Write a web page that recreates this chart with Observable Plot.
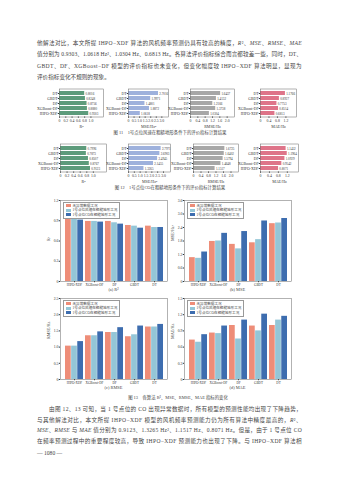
<!DOCTYPE html>
<html><head><meta charset="utf-8">
<script src="https://cdn.jsdelivr.net/npm/d3@7"></script>
<script src="https://cdn.jsdelivr.net/npm/@observablehq/plot@0.6"></script>
<style>
body{margin:0;background:#fff}
#page{position:relative;width:339px;height:480px;overflow:hidden;background:#fff;font-family:"Liberation Serif","Noto Sans CJK SC",serif;color:#444}
.ln{position:absolute;white-space:nowrap;line-height:8px}
.leg{position:absolute;font-size:3.6px;line-height:4.6px;border:0.4px solid #999;padding:0.6px 2px 0.6px 1.5px;background:#fff;white-space:nowrap;color:#444}
.sw{display:inline-block;width:5px;height:3px;margin-right:2px;vertical-align:middle}
</style></head>
<body><div id="page"></div>
<script>
// ---------- data ----------
const models11 = ["DT","GBDT","DF","XGBoost-DF","IHPO-XDF"];
const r2_11   = [0.8016, 0.8248, 0.8756, 0.8880, 0.9303];
const mse_11  = [2.7016, 1.9971, 1.4801, 1.8872, 1.0618];
const rmse_11 = [1.6437, 1.4132, 1.2166, 1.3738, 1.0304];
const mae_11  = [1.1766, 0.8927, 0.7753, 0.8514, 0.6813];

const r2_12   = [0.7996, 0.7873, 0.8507, 0.8767, 0.9123];
const mse_12  = [2.7971, 2.6903, 2.4945, 2.1455, 1.3265];
const rmse_12 = [1.6725, 1.6402, 1.5794, 1.4648, 1.1517];
const mae_12  = [1.1452, 1.1964, 1.0929, 0.9542, 0.8071];

const models13 = ["IHPO-XDF","XGBoost-DF","DF","GBDT","DT"];
const series13 = ["无异常数据工况","1号点位风速在粗糙地形工况","1号点位CO在粗糙地形工况"];
const r2_13   = [[0.93,0.89,0.89,0.83,0.82],[0.93,0.89,0.87,0.82,0.80],[0.91,0.88,0.85,0.79,0.80]];
const mse_13  = [[1.06,1.78,1.65,1.72,2.57],[1.03,1.80,1.45,1.86,2.60],[1.31,2.14,2.22,2.69,2.80]];
const rmse_13 = [[1.03,1.35,1.45,1.32,1.62],[1.03,1.35,1.45,1.38,1.62],[1.17,1.47,1.60,1.65,1.70]];
const mae_13  = [[0.73,0.86,1.00,0.99,1.00],[0.69,0.85,0.75,0.90,1.10],[0.83,0.99,1.10,1.21,1.17]];

const topLines = [
 '他解法对比，本文所提 IHPO−XDF 算法的风机频率预测仍具有较高的精度，<i>R</i>²、<i>MSE</i>、<i>RMSE</i>、<i>MAE</i>',
 '值分别为 0.9303、1.0618 Hz²、1.0304 Hz、0.6813 Hz。各算法评价指标综合而言都较差一些，同时，DT、',
 'GBDT、DF、XGBoost−DF 模型的评价指标也未变化，但变化幅度较 IHPO−XDF 算法明显，显现为',
 '评价指标变化不规则的现象。'
];
const bottomLines = [
 '由图 12、13 可知，当 1 号点位的 CO 出现异常数据时，所有模型的预测性能均出现了下降趋势，',
 '与其他解法对比，本文所提 IHPO−XDF 模型的风机频率预测能力仍为所有算法中精度最高的，<i>R</i>²、',
 '<i>MSE</i>、<i>RMSE</i> 与 <i>MAE</i> 值分别为 0.9123、1.3265 Hz²、1.1517 Hz、0.8071 Hz。但是，由于 1 号点位 CO',
 '在频率预测过程中的重要程度较高，导致 IHPO−XDF 预测能力也出现了下降。与 IHPO−XDF 算法相'
];
const cap11 = "图 11　1号点位风速在粗糙地形条件下的评价指标计算结果";
const cap12 = "图 12　1号点位CO在粗糙地形条件下的评价指标计算结果";
const cap13 = "图 13　各算法 R²、MSE、RMSE、MAE 指标的变化";

// ---------- helpers ----------
const page = document.getElementById("page");
const FONT = '"Liberation Serif","Noto Sans CJK SC",serif';
function line(html, x, y, w, fs, justify, center) {
  const d = document.createElement("div");
  d.className = "ln"; d.style.fontSize = fs + "px";
  d.innerHTML = html; page.appendChild(d);
  d.style.top = (y - 4) + "px";
  const nat = d.getBoundingClientRect().width;
  if (justify) {
    const n = d.textContent.length;
    d.style.letterSpacing = ((w - nat) / n) + "px";
    d.style.left = x + "px";
  } else if (center) {
    d.style.left = (x - nat / 2) + "px";
  } else d.style.left = x + "px";
}
function place(svg, left, top) {
  svg.style.position = "absolute"; svg.style.left = left + "px"; svg.style.top = top + "px";
  svg.style.maxWidth = "none"; svg.style.overflow = "visible";
  page.appendChild(svg);
}
const fmt1 = d => d === 0 ? "0" : d.toFixed(1);

function hbar(vals, color, xmax, ticks, title, frameL, frameR, frameT, frameB) {
  const ML = 30, MT = 0.5, MB = 16, MR = 0.5;
  const data = models11.map((n, i) => ({n, v: vals[i]}));
  const svg = Plot.plot({
    width: ML + (frameR - frameL) + MR, height: MT + (frameB - frameT) + MB,
    marginLeft: ML, marginRight: MR, marginTop: MT, marginBottom: MB,
    style: {fontSize: "3.8px", fontFamily: FONT, background: "transparent", color: "#333"},
    x: {domain: [0, xmax], ticks, tickFormat: fmt1, tickSize: 1.2, tickPadding: 0.8, label: null},
    y: {domain: models11, padding: 0.22, tickSize: 1.2, tickPadding: 0.8, label: null},
    marks: [
      Plot.barX(data, {x: "v", y: "n", fill: color}),
      Plot.text(data, {x: "v", y: "n", text: d => d.v.toFixed(4), textAnchor: "start", dx: 0.8, fontSize: 3.2}),
      Plot.frame({stroke: "#666", strokeWidth: 0.5}),
      Plot.text([title], {frameAnchor: "bottom", dy: 10.5, fontSize: 4})
    ]
  });
  place(svg, frameL - ML, frameT - MT);
}

const colors13 = ["#ee8d78", "#94c6d7", "#3d6daf"];
function grouped(vals, ymax, ticks, ylabel, cap, left, top) {
  const pw = 107, ph = 81, ML = 16, MR = 1, MT = 1, MB = 10;
  const pad = 0.12;
  const step = pw / (models13.length - pad + 2 * pad), bw = step * (1 - pad);
  const marks = series13.map((s, i) => Plot.barY(
    models13.map((m, j) => ({m, v: vals[i][j]})),
    {x: "m", y: "v", fill: colors13[i], insetLeft: i * bw / 3, insetRight: (2 - i) * bw / 3}));
  const svg = Plot.plot({
    width: ML + pw + MR, height: MT + ph + MB,
    marginLeft: ML, marginRight: MR, marginTop: MT, marginBottom: MB,
    style: {fontSize: "3.8px", fontFamily: FONT, background: "transparent", color: "#333"},
    x: {domain: models13, padding: pad, tickSize: 1.2, tickPadding: 0.8, label: null},
    y: {domain: [0, ymax], ticks, tickFormat: fmt1, tickSize: 1.2, tickPadding: 0.8, label: null},
    marks: [
      ...marks,
      Plot.axisX({tickSize: 1.2, tickPadding: 0.8, fontSize: 3.3, label: null}),
      Plot.frame({stroke: "#666", strokeWidth: 0.5}),
      Plot.text([ylabel], {frameAnchor: "left", dx: -12, rotate: -90, fontSize: 4.2})
    ]
  });
  place(svg, left - ML, top - MT);
  const lg = document.createElement("div"); lg.className = "leg";
  lg.style.left = (left + 3) + "px"; lg.style.top = (top + 2) + "px";
  lg.innerHTML = series13.map((s, i) => `<div><span class="sw" style="background:${colors13[i]}"></span>${s}</div>`).join("");
  page.appendChild(lg);
  line(cap, left + pw / 2, top + ph + 9, 0, 4.4, false, true);
}

// ---------- page text ----------
[43, 54, 65.5, 77].forEach((y, i) => line(topLines[i], 37, y, 265, 5.6, i < 3));
[409, 419.5, 430, 441].forEach((y, i) => line(bottomLines[i], i === 0 ? 49 : 37, y, i === 0 ? 253 : 265, 5.6, true));
line("— 1080 —", 37, 453, 0, 5.6, false);

// ---------- figure 11 ----------
hbar(r2_11, "#5d9b7b", 1.4, [0, .2, .4, .6, .8, 1.0], "R²", 59, 103, 88, 116);
hbar(mse_11, "#9eb1dc", 3.6, [0, .5, 1, 1.5, 2, 2.5, 3], "MSE/Hz²", 128, 168, 88, 116);
hbar(rmse_11, "#a7a7a7", 2.4, [0, .4, .8, 1.2, 1.6, 2.0], "RMSE/Hz", 190, 234, 88, 116);
hbar(mae_11, "#de7489", 1.7, [0, .4, .8, 1.2], "MAE/Hz", 260, 296, 88, 116);
line(cap11, 170, 132.5, 0, 4.4, false, true);

// ---------- figure 12 ----------
hbar(r2_12, "#5d9b7b", 1.4, [0, .2, .4, .6, .8, 1.0], "R²", 60, 106, 143, 171);
hbar(mse_12, "#9eb1dc", 3.6, [0, .5, 1, 1.5, 2, 2.5, 3], "MSE/Hz²", 128, 170, 143, 171);
hbar(rmse_12, "#a7a7a7", 2.4, [0, .4, .8, 1.2, 1.6, 2.0], "RMSE/Hz", 193, 238, 143, 171);
hbar(mae_12, "#de7489", 1.7, [0, .4, .8, 1.2], "MAE/Hz", 260, 298, 143, 171);
line(cap12, 170, 187.5, 0, 4.4, false, true);

// ---------- figure 13 ----------
grouped(r2_13, 1.2, [0, .3, .6, .9, 1.2], "R²", "(a) R²", 60, 200);
grouped(mse_13, 3.6, [0, .6, 1.2, 1.8, 2.4, 3.0, 3.6], "MSE/Hz²", "(b) MSE", 184, 200);
grouped(rmse_13, 2.5, [0, .5, 1, 1.5, 2, 2.5], "RMSE/Hz", "(c) RMSE", 60, 298);
grouped(mae_13, 1.5, [0, .3, .6, .9, 1.2, 1.5], "MAE/Hz", "(d) MAE", 184, 298);
line(cap13, 178, 397.5, 0, 4.4, false, true);
</script>
</body></html>
